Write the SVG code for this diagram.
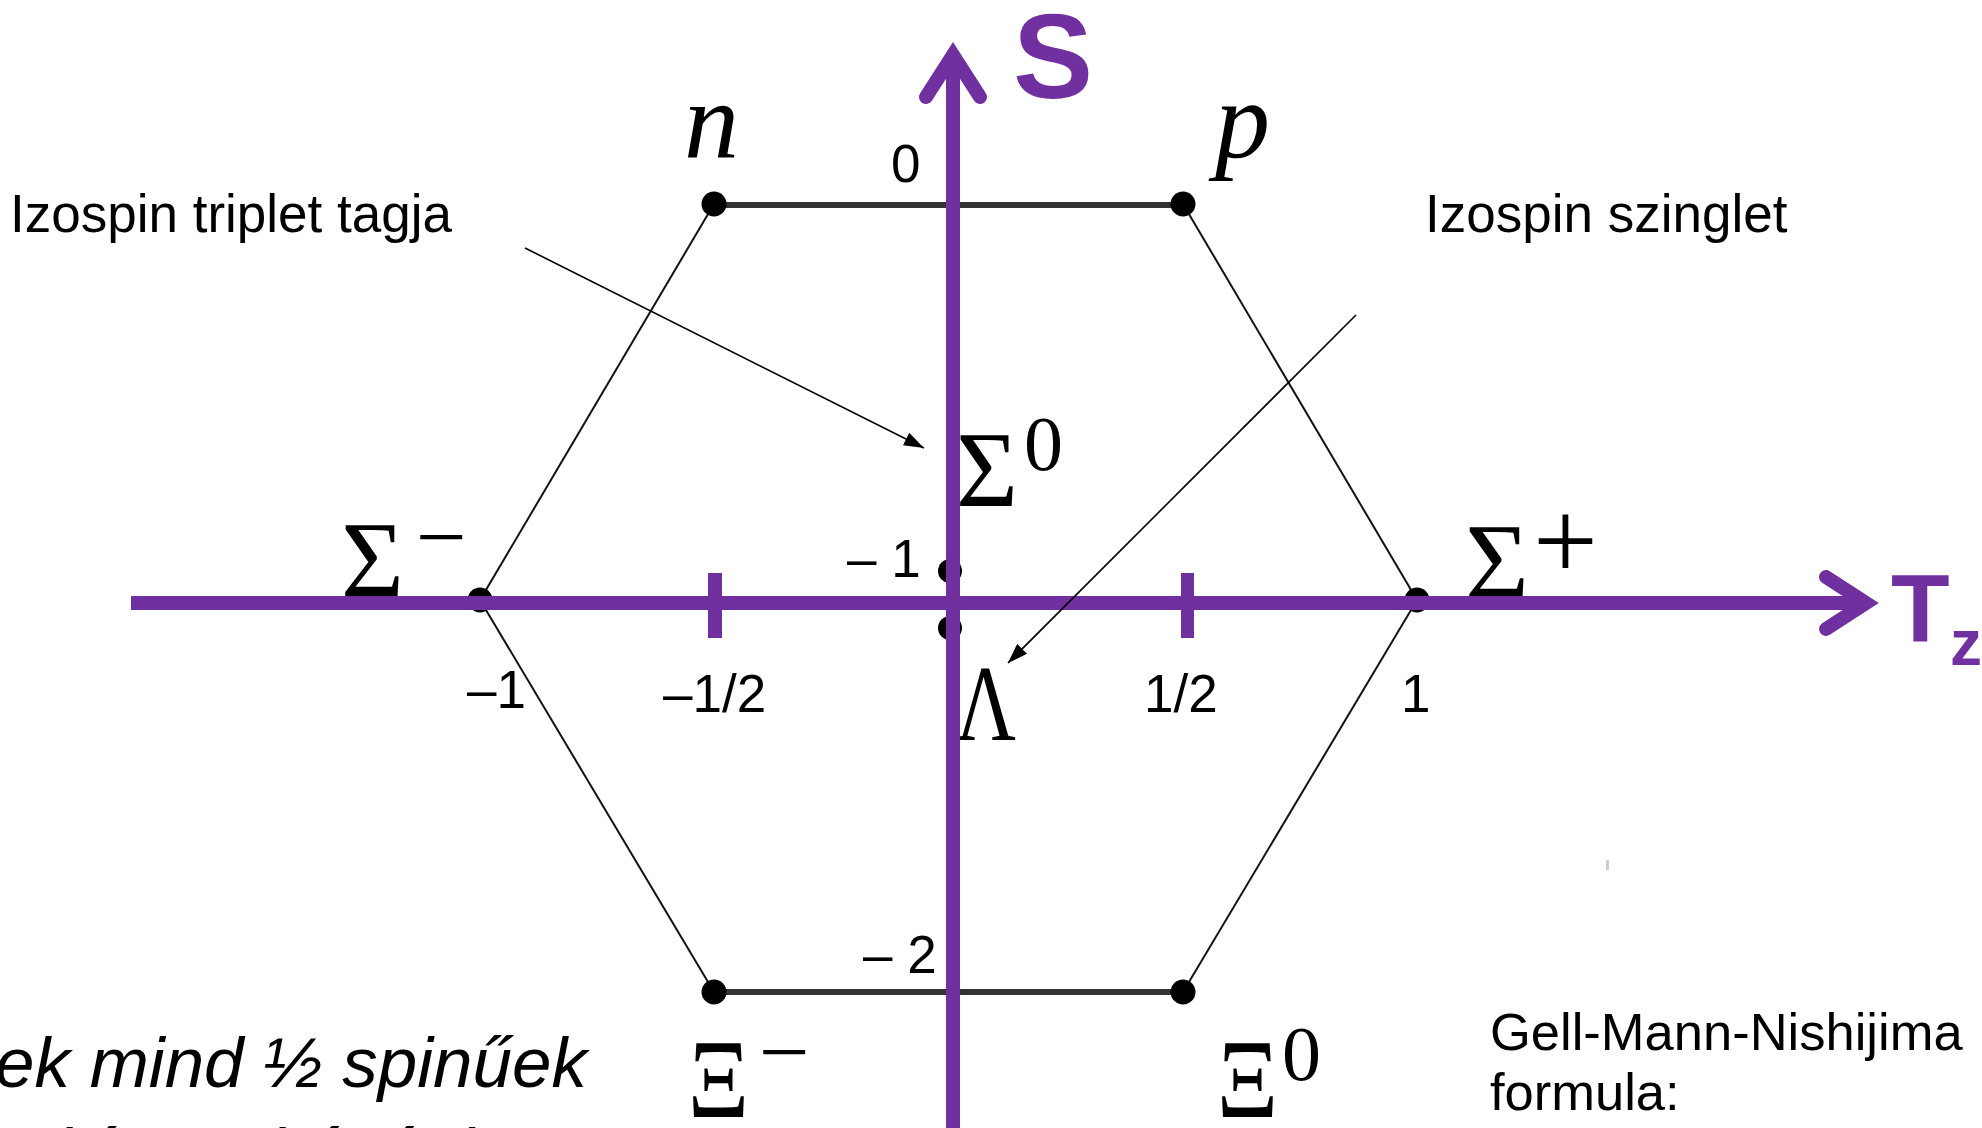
<svg xmlns="http://www.w3.org/2000/svg" width="1982" height="1128" viewBox="0 0 1982 1128">
<defs>
<marker id="ah" markerUnits="userSpaceOnUse" markerWidth="22" markerHeight="14" refX="20" refY="7" orient="auto">
<path d="M0,0 L20,7 L0,14 Z" fill="#000"/>
</marker>
<style>
.sans{font-family:"Liberation Sans",Arial,sans-serif;fill:#000}
.lbl{font-size:53px}
.num{font-size:53px}
.math{font-family:"Liberation Serif","Times New Roman",serif;fill:#000}
.gr{font-size:108px}
.it{font-style:italic}
.ax{stroke:#7030A0;stroke-width:14;fill:none}
.axt{font-family:"Liberation Sans",Arial,sans-serif;font-weight:bold;fill:#7030A0}
.edge{stroke:#111;stroke-width:2;fill:none}
.hedge{stroke:#333;stroke-width:6;fill:none}
.ann{stroke:#000;stroke-width:1.6;fill:none}
.dot{fill:#000}
</style>
</defs>
<rect width="1982" height="1128" fill="#fff"/>

<g id="connectors">
<line class="hedge" x1="714" y1="205" x2="1183" y2="205"/>
<line class="hedge" x1="714" y1="992" x2="1183" y2="992"/>
<line class="edge" x1="714" y1="204" x2="480" y2="600"/>
<line class="edge" x1="1183" y1="204" x2="1417" y2="600"/>
<line class="edge" x1="480" y1="600" x2="714" y2="992"/>
<line class="edge" x1="1417" y1="600" x2="1183" y2="992"/>
</g>

<g id="node-n">
<circle class="dot" cx="714" cy="204" r="12.5"/>
<text class="math it" x="684" y="158" font-size="110">n</text>
</g>
<g id="node-p">
<circle class="dot" cx="1183" cy="204" r="12.5"/>
<text class="math it" x="1215" y="158" font-size="110">p</text>
</g>
<g id="node-sigma-minus">
<circle class="dot" cx="480" cy="600" r="12.5"/>
<text class="math gr" x="341" y="596" textLength="63" lengthAdjust="spacingAndGlyphs">Σ</text>
<text class="math" x="416" y="567" font-size="90">−</text>
</g>
<g id="node-sigma-plus">
<circle class="dot" cx="1417" cy="600" r="12.5"/>
<text class="math gr" x="1465" y="598" textLength="64" lengthAdjust="spacingAndGlyphs">Σ</text>
<text class="math" x="1533" y="579" font-size="115">+</text>
</g>
<g id="node-sigma0">
<circle class="dot" cx="950" cy="571" r="12"/>
<text class="math gr" x="956" y="506" textLength="62" lengthAdjust="spacingAndGlyphs">Σ</text>
<text class="math" x="1024" y="470" font-size="78">0</text>
</g>
<g id="node-lambda">
<circle class="dot" cx="950" cy="628" r="12"/>
<text class="math gr" x="956" y="740" textLength="60" lengthAdjust="spacingAndGlyphs">Λ</text>
</g>
<g id="node-xi-minus">
<circle class="dot" cx="714" cy="992" r="12.5"/>
<text class="math" x="688" y="1117" font-size="112" textLength="61" lengthAdjust="spacingAndGlyphs">Ξ</text>
<text class="math" x="759" y="1082" font-size="90">−</text>
</g>
<g id="node-xi0">
<circle class="dot" cx="1183" cy="992" r="12.5"/>
<text class="math" x="1217" y="1117" font-size="112" textLength="61" lengthAdjust="spacingAndGlyphs">Ξ</text>
<text class="math" x="1282" y="1080" font-size="78">0</text>
</g>

<g id="axes">
<line class="ax" x1="131" y1="603" x2="1866" y2="603"/>
<polyline class="ax" points="1826,577 1866,603 1826,629" stroke-linecap="round" stroke-linejoin="miter"/>
<line class="ax" x1="953" y1="56" x2="953" y2="1130"/>
<polyline class="ax" points="926,97 953,55 980,97" stroke-linecap="round" stroke-linejoin="miter"/>
<rect x="708" y="573" width="14" height="65" fill="#7030A0"/>
<rect x="1181" y="573" width="13" height="65" fill="#7030A0"/>
<text class="axt" x="1013" y="98" font-size="120">S</text>
<text class="axt" x="1891" y="642" font-size="96">T</text>
<text class="axt" x="1950" y="665" font-size="64">z</text>
</g>

<g id="tick-labels" class="sans num">
<text x="891" y="182">0</text>
<text x="847" y="577">– 1</text>
<text x="863" y="973">– 2</text>
<text x="467" y="708">–1</text>
<text x="663" y="712">–1/2</text>
<text x="1144" y="712">1/2</text>
<text x="1401" y="712">1</text>
</g>

<g id="annotations">
<line class="ann" x1="525" y1="248" x2="924" y2="448" marker-end="url(#ah)"/>
<line class="ann" x1="1356" y1="315" x2="1008" y2="663" marker-end="url(#ah)"/>
<text class="sans lbl" x="10" y="232">Izospin triplet tagja</text>
<text class="sans lbl" x="1425" y="232">Izospin szinglet</text>
</g>

<g id="notes">
<text class="sans" x="1490" y="1050" font-size="52.5">Gell-Mann-Nishijima</text>
<text class="sans" x="1490" y="1110" font-size="52.5">formula:</text>
<text class="sans it" x="-5" y="1087" font-size="71">ek mind ½ spinűek</text>
<text class="sans it" x="-59" y="1178" font-size="71">pozitív paritásúak</text>
<rect x="1606" y="860" width="3" height="10" fill="#ccc"/>
</g>
</svg>
